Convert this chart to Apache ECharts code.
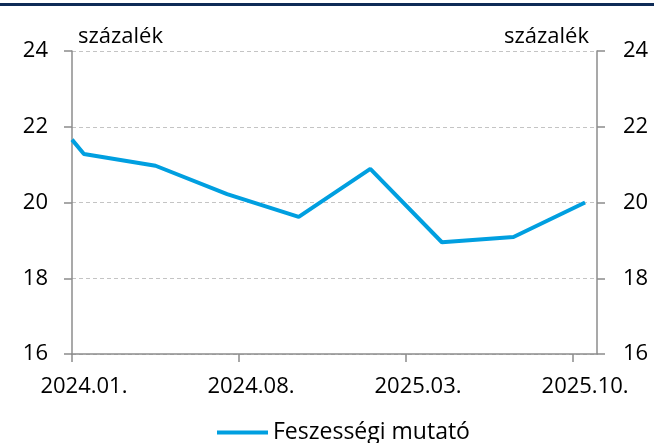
<!DOCTYPE html>
<html>
<head>
<meta charset="utf-8">
<script src="https://cdn.jsdelivr.net/npm/echarts@6/dist/echarts.min.js"></script>
<style>
  html, body { margin: 0; padding: 0; background: #fff; }
  #chart-container { width: 654px; height: 443px; }
</style>
</head>
<body>
<div id="chart-container"></div>
<script>
// x positions in months counted from 2024.01 (quarter midpoints)
var monthPos = [0, 0.5, 3.5, 6.5, 9.5, 12.5, 15.5, 18.5, 21.5];
var values = [21.66, 21.28, 20.97, 20.22, 19.62, 20.89, 18.95, 19.09, 20.0];
var tickMonths = [0, 7, 14, 21];
var tickLabels = ['2024.01.', '2024.08.', '2025.03.', '2025.10.'];
var seriesName = 'Feszességi mutató';
var unitName = 'százalék';

var dom = document.getElementById('chart-container');
var myChart = echarts.init(dom, null, { renderer: 'canvas' });

var font = 'Open Sans';
var axisGray = '#8c8c8c';

var option = {
	animation: false,
	textStyle: { fontFamily: font, color: '#000' },
	graphic: [{
		type: 'rect',
		shape: { x: 0, y: 3, width: 654, height: 3 },
		style: { fill: '#0e2b57' }
	}],
	grid: { left: 72, right: 57, top: 51, bottom: 89 },
	legend: {
		left: 212,
		top: 416,
		icon: 'rect',
		itemWidth: 51,
		itemHeight: 4,
		textStyle: { fontFamily: font, fontSize: 23, color: '#000' },
		data: [seriesName]
	},
	xAxis: {
		type: 'value',
		min: 0,
		max: 22,
		axisLine: { lineStyle: { color: axisGray, width: 1.5 } },
		axisTick: {
			length: 8,
			customValues: tickMonths,
			lineStyle: { color: axisGray, width: 1.5 }
		},
		axisLabel: {
			customValues: tickMonths.map(function (m) { return m + 0.5; }),
			formatter: function (v) {
				return tickLabels[Math.floor(v / 7)] || '';
			},
			fontSize: 22,
			margin: 22,
			color: '#000'
		},
		splitLine: { show: false }
	},
	yAxis: [{
		type: 'value',
		position: 'left',
		min: 16,
		max: 24,
		interval: 2,
		name: unitName,
		nameLocation: 'end',
		nameGap: 3,
		nameTextStyle: {
			fontSize: 22,
			align: 'left',
			verticalAlign: 'bottom',
			padding: [0, 0, 0, 6],
			color: '#000'
		},
		axisLine: { show: true, lineStyle: { color: axisGray, width: 1.5 } },
		axisTick: { show: true, length: 8, lineStyle: { color: axisGray, width: 1.5 } },
		axisLabel: { fontSize: 22, margin: 24, color: '#000' },
		splitLine: {
			show: true,
			lineStyle: { color: '#c4c4c4', type: [4, 3], width: 1 }
		}
	}, {
		type: 'value',
		position: 'right',
		min: 16,
		max: 24,
		interval: 2,
		name: unitName,
		nameLocation: 'end',
		nameGap: 3,
		nameTextStyle: {
			fontSize: 22,
			align: 'right',
			verticalAlign: 'bottom',
			padding: [0, 8, 0, 0],
			color: '#000'
		},
		axisLine: { show: true, lineStyle: { color: axisGray, width: 1.5 } },
		axisTick: { show: true, length: 8, lineStyle: { color: axisGray, width: 1.5 } },
		axisLabel: { fontSize: 22, margin: 26, color: '#000' },
		splitLine: { show: false }
	}],
	series: [{
		name: seriesName,
		type: 'line',
		yAxisIndex: 0,
		showSymbol: false,
		symbol: 'none',
		itemStyle: { color: '#009fe0' },
		lineStyle: { color: '#009fe0', width: 4 },
		data: monthPos.map(function (m, i) { return [m, values[i]]; })
	}]
};

myChart.setOption(option);
window.addEventListener('resize', myChart.resize);
</script>
</body>
</html>
